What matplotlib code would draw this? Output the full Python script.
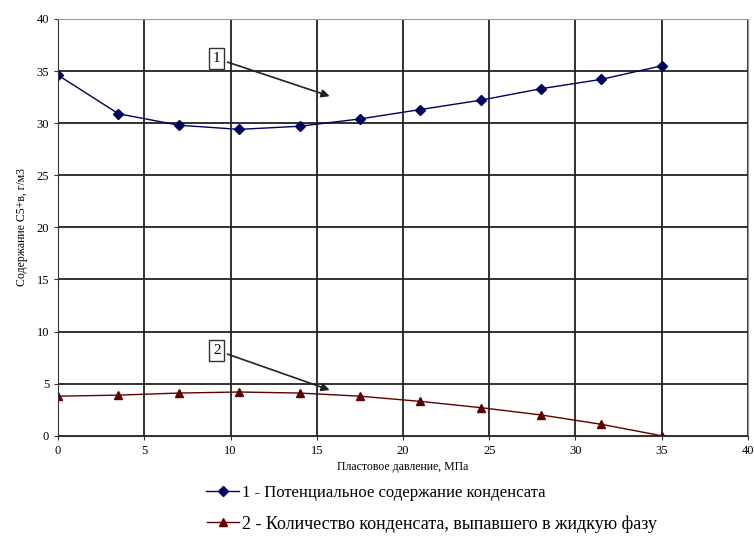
import matplotlib
matplotlib.use("Agg")
import matplotlib.pyplot as plt
from matplotlib.lines import Line2D

plt.rcParams['font.family'] = ['Liberation Serif', 'DejaVu Serif']

# pressure steps, MPa
pressure = [0, 3.5, 7, 10.5, 14, 17.5, 21, 24.5, 28, 31.5, 35]
# 1 - potential condensate content, g/m3
potential = [34.6, 30.9, 29.8, 29.4, 29.7, 30.4, 31.3, 32.2, 33.3, 34.2, 35.5]
# 2 - condensate dropped into liquid phase, g/m3
dropped = [3.8, 3.9, 4.1, 4.2, 4.1, 3.8, 3.3, 2.7, 2.0, 1.1, 0.0]

label1 = "1 - Потенциальное содержание конденсата"
label2 = "2 - Количество конденсата, выпавшего в жидкую фазу"

fig = plt.figure(figsize=(7.54, 5.4), dpi=100)
ax = fig.add_axes([0.077, 0.193, 0.915, 0.772])

ax.plot(pressure, potential, color='#00005e', lw=1.0, marker='D', ms=5,
        label=label1)
ax.plot(pressure, dropped, color='#5e0000', lw=1.0, marker='^', ms=6,
        label=label2)

ax.set_xlim(0, 40)
ax.set_ylim(0, 40)
ax.set_xticks(range(0, 41, 5))
ax.set_yticks(range(0, 41, 5))
ax.grid(True, color='#222222', lw=1.3)
ax.set_axisbelow(True)
for side in ['top', 'right']:
    ax.spines[side].set_color('#999999')
for side in ['left', 'bottom']:
    ax.spines[side].set_color('#333333')
ax.tick_params(labelsize=9, length=3, color='#333333')

ax.set_xlabel("Пластовое давление, МПа", fontsize=8.5, labelpad=3)
ax.set_ylabel("Содержание С5+в, г/м3", fontsize=8.5, labelpad=6)

box = dict(boxstyle='square,pad=0.25', fc='white', ec='#333333', lw=1)
arrow = dict(arrowstyle='-|>', color='#222222', lw=1.2, mutation_scale=12)
ax.annotate("1", xy=(15.9, 32.5), xytext=(9.2, 36.2), fontsize=11,
            ha='center', va='center', bbox=box, arrowprops=arrow)
ax.annotate("2", xy=(15.9, 4.3), xytext=(9.2, 8.2), fontsize=11,
            ha='center', va='center', bbox=box, arrowprops=arrow)

# two legend rows placed separately under the axis title
h1 = Line2D([], [], color='#00005e', lw=1.0, marker='D', ms=5)
h2 = Line2D([], [], color='#5e0000', lw=1.0, marker='^', ms=6)
fig.legend([h1], [label1], loc='center left', bbox_to_anchor=(0.262, 0.087),
           frameon=False, fontsize=12, handlelength=2.0, handletextpad=0.15,
           borderpad=0)
fig.legend([h2], [label2], loc='center left', bbox_to_anchor=(0.262, 0.03),
           frameon=False, fontsize=13, handlelength=1.8, handletextpad=0.15,
           borderpad=0)

fig.savefig("out.png", dpi=100)
